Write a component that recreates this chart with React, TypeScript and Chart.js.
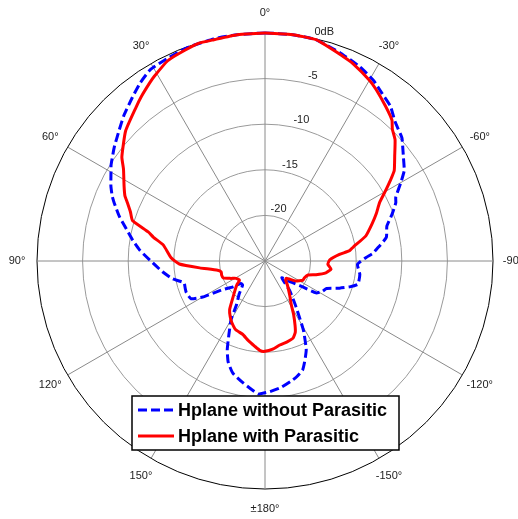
import React, { useEffect, useRef } from 'react';
import { Chart, registerables } from 'chart.js';

Chart.register(...registerables);

// Angle tick labels, clockwise from the top, every 30 degrees
const angleTickLabels = ['0°', '-30°', '-60°', '-90°', '-120°', '-150°', '±180°', '150°', '120°', '90°', '60°', '30°'];
// Radial rings (dB) and their labels
const ringValues = [0, -5, -10, -15, -20];
const ringLabels = ['0dB', '-5', '-10', '-15', '-20'];
const seriesNames = ['Hplane without Parasitic', 'Hplane with Parasitic'];

// Angles in degrees (counter-clockwise positive, 0 at top), gains in dB
const blueAngles = [-180, -178, -173, -168, -165, -161, -158, -155, -151, -146, -140, -135, -129, -125, -122, -118, -114, -110, -107, -104, -98, -92, -88, -86, -84, -79, -74, -70, -66, -64, -60, -57, -53, -50, -48, -43, -39, -35, -31, -26, -20, -13, -7, 0, 7, 13, 20, 26, 31, 35, 39, 44, 48, 53, 58, 60, 64, 67, 69, 73, 77, 81, 85, 91, 96, 101, 105, 109, 112, 117, 120, 124, 129, 133, 137, 142, 147, 150, 154, 157, 160, 164, 170, 177];
const blueDb = [-10.55, -10.65, -11.0, -11.5, -11.8, -12.35, -13.3, -14.3, -16.3, -18.9, -20.8, -22.4, -21.3, -20.2, -18.4, -17.9, -17.6, -16.3, -15.3, -14.5, -14.5, -14.85, -13.9, -13.15, -12.7, -11.45, -11.1, -10.2, -9.3, -9.05, -7.8, -6.8, -6.0, -5.3, -4.8, -4.1, -3.15, -2.6, -1.9, -1.3, -0.75, -0.1, 0, 0, 0, 0, -0.1, -0.35, -0.55, -1.15, -1.9, -2.75, -3.5, -4.3, -5.1, -5.5, -6.2, -6.8, -7.3, -8.3, -9.4, -10.3, -11.2, -12.7, -13.7, -14.7, -15.8, -15.75, -15.7, -15.9, -17.1, -19.4, -20.5, -21.4, -21.4, -20.4, -19.25, -17.55, -15.95, -14.4, -13.2, -12.2, -11.4, -10.4];

const redAngles = [-180, -175, -170, -165, -160, -157, -155, -152, -149, -144, -137, -133, -129, -123, -117, -113, -108, -105, -101, -97, -93, -89, -85, -83, -81, -76, -71, -67, -63, -60, -57, -55, -51, -47, -44, -42, -38, -33, -30, -24, -21, -13, -7, 0, 7, 13, 17, 22, 26, 31, 33, 37, 40, 47, 54, 57, 62, 65, 67, 70, 73, 76, 78, 81, 88, 92, 96, 101, 104, 108, 112, 117, 121, 127, 130, 134, 140, 144, 148, 152, 157, 163, 168, 173, 177];
const redDb = [-15.1, -15.3, -15.65, -15.8, -16.0, -16.5, -17.2, -18.3, -19.4, -20.4, -21.4, -21.9, -22.0, -21.0, -20.35, -20.3, -20.05, -19.2, -18.2, -17.7, -18.1, -17.9, -16.8, -15.65, -15.2, -13.6, -12.6, -11.75, -10.9, -9.8, -8.55, -7.7, -6.7, -5.5, -4.9, -4.2, -3.5, -2.6, -2.1, -1.3, -1.0, -0.1, 0, 0, 0, -0.1, -0.05, -0.35, -0.6, -1.4, -1.75, -2.45, -3.0, -4.1, -5.6, -6.5, -7.5, -8.05, -8.6, -9.3, -9.8, -11.8, -12.5, -13.7, -14.7, -15.6, -17.8, -19.7, -20.05, -20.0, -20.05, -20.8, -21.3, -21.5, -21.0, -20.45, -19.4, -18.4, -17.8, -17.3, -16.8, -16.6, -16.1, -15.6, -15.15];

const STEPS = 360;

function toSeries(angles: number[], values: number[]): (number | null)[] {
  const arr: (number | null)[] = new Array(STEPS).fill(null);
  angles.forEach((a, k) => {
    const idx = Math.round((((-a) % 360) + 360) % 360) % STEPS;
    arr[idx] = values[k];
  });
  return arr;
}

const FONT = '"Liberation Sans", Arial, sans-serif';

const textPlugin = {
  id: 'polarText',
  afterDatasetsDraw(chart: any) {
    const s = chart.scales.r;
    const ctx = chart.ctx;
    ctx.save();
    ctx.font = `11px ${FONT}`;
    ctx.fillStyle = '#222';
    ctx.textAlign = 'center';
    ctx.textBaseline = 'middle';
    angleTickLabels.forEach((t, k) => {
      const p = s.getPointPosition(k * 30, s.drawingArea + 20);
      ctx.fillText(t, p.x, p.y);
    });
    ringValues.forEach((v, k) => {
      const p = s.getPointPosition(14.5, s.getDistanceFromCenterForValue(v) + 8.5);
      ctx.fillText(ringLabels[k], p.x, p.y);
    });

    // legend box
    const bx = 132, by = 396, bw = 267, bh = 54;
    ctx.fillStyle = '#fff';
    ctx.fillRect(bx, by, bw, bh);
    ctx.strokeStyle = '#000';
    ctx.lineWidth = 1.5;
    ctx.strokeRect(bx, by, bw, bh);
    chart.data.datasets.forEach((ds: any, i: number) => {
      const y = 410 + i * 26;
      ctx.beginPath();
      ctx.setLineDash(ds.borderDash || []);
      ctx.strokeStyle = ds.borderColor;
      ctx.lineWidth = 3;
      ctx.moveTo(138, y);
      ctx.lineTo(174, y);
      ctx.stroke();
      ctx.setLineDash([]);
      ctx.fillStyle = '#000';
      ctx.font = `bold 18px ${FONT}`;
      ctx.textAlign = 'left';
      ctx.fillText(ds.label, 178, y + 1);
    });
    ctx.restore();
  },
};

export default function App() {
  const ref = useRef<HTMLCanvasElement>(null);
  useEffect(() => {
    if (!ref.current) return;
    const labels = Array.from({ length: STEPS }, (_, i) => (i % 30 === 0 ? angleTickLabels[i / 30] : ''));
    const chart = new Chart(ref.current, {
      type: 'radar',
      data: {
        labels,
        datasets: [
          {
            label: seriesNames[0],
            data: toSeries(blueAngles, blueDb),
            borderColor: '#0000ff',
            borderWidth: 3,
            borderDash: [9, 4],
            fill: false,
            spanGaps: true,
            pointRadius: 0,
            pointHitRadius: 0,
            order: 1,
          } as any,
          {
            label: seriesNames[1],
            data: toSeries(redAngles, redDb),
            borderColor: '#ff0000',
            borderWidth: 3,
            fill: false,
            spanGaps: true,
            pointRadius: 0,
            pointHitRadius: 0,
            order: 0,
          } as any,
        ],
      },
      options: {
        responsive: false,
        animation: false,
        devicePixelRatio: 1,
        events: [],
        layout: { padding: { left: 37, right: 25, top: 33, bottom: 30 } },
        elements: { line: { tension: 0.15, borderJoinStyle: 'round', spanGaps: true } as any },
        plugins: { legend: { display: false }, tooltip: { enabled: false } },
        scales: {
          r: {
            min: -25,
            max: 0,
            beginAtZero: false,
            ticks: { stepSize: 5, display: false },
            pointLabels: { display: false },
            grid: {
              circular: true,
              color: (c: any) => (c.tick && c.tick.value === 0 ? '#000' : '#9a9a9a'),
              lineWidth: 1,
            },
            angleLines: {
              display: true,
              color: '#8a8a8a',
              lineWidth: (c: any) => (c.index % 30 === 0 ? 1 : 0),
            },
          } as any,
        },
      },
      plugins: [textPlugin],
    });
    return () => chart.destroy();
  }, []);
  return (
    <div style={{ position: 'fixed', left: 0, top: 0, width: 518, height: 519, background: '#fff' }}>
      <canvas ref={ref} width={518} height={519} style={{ width: 518, height: 519, display: 'block' }} />
    </div>
  );
}
